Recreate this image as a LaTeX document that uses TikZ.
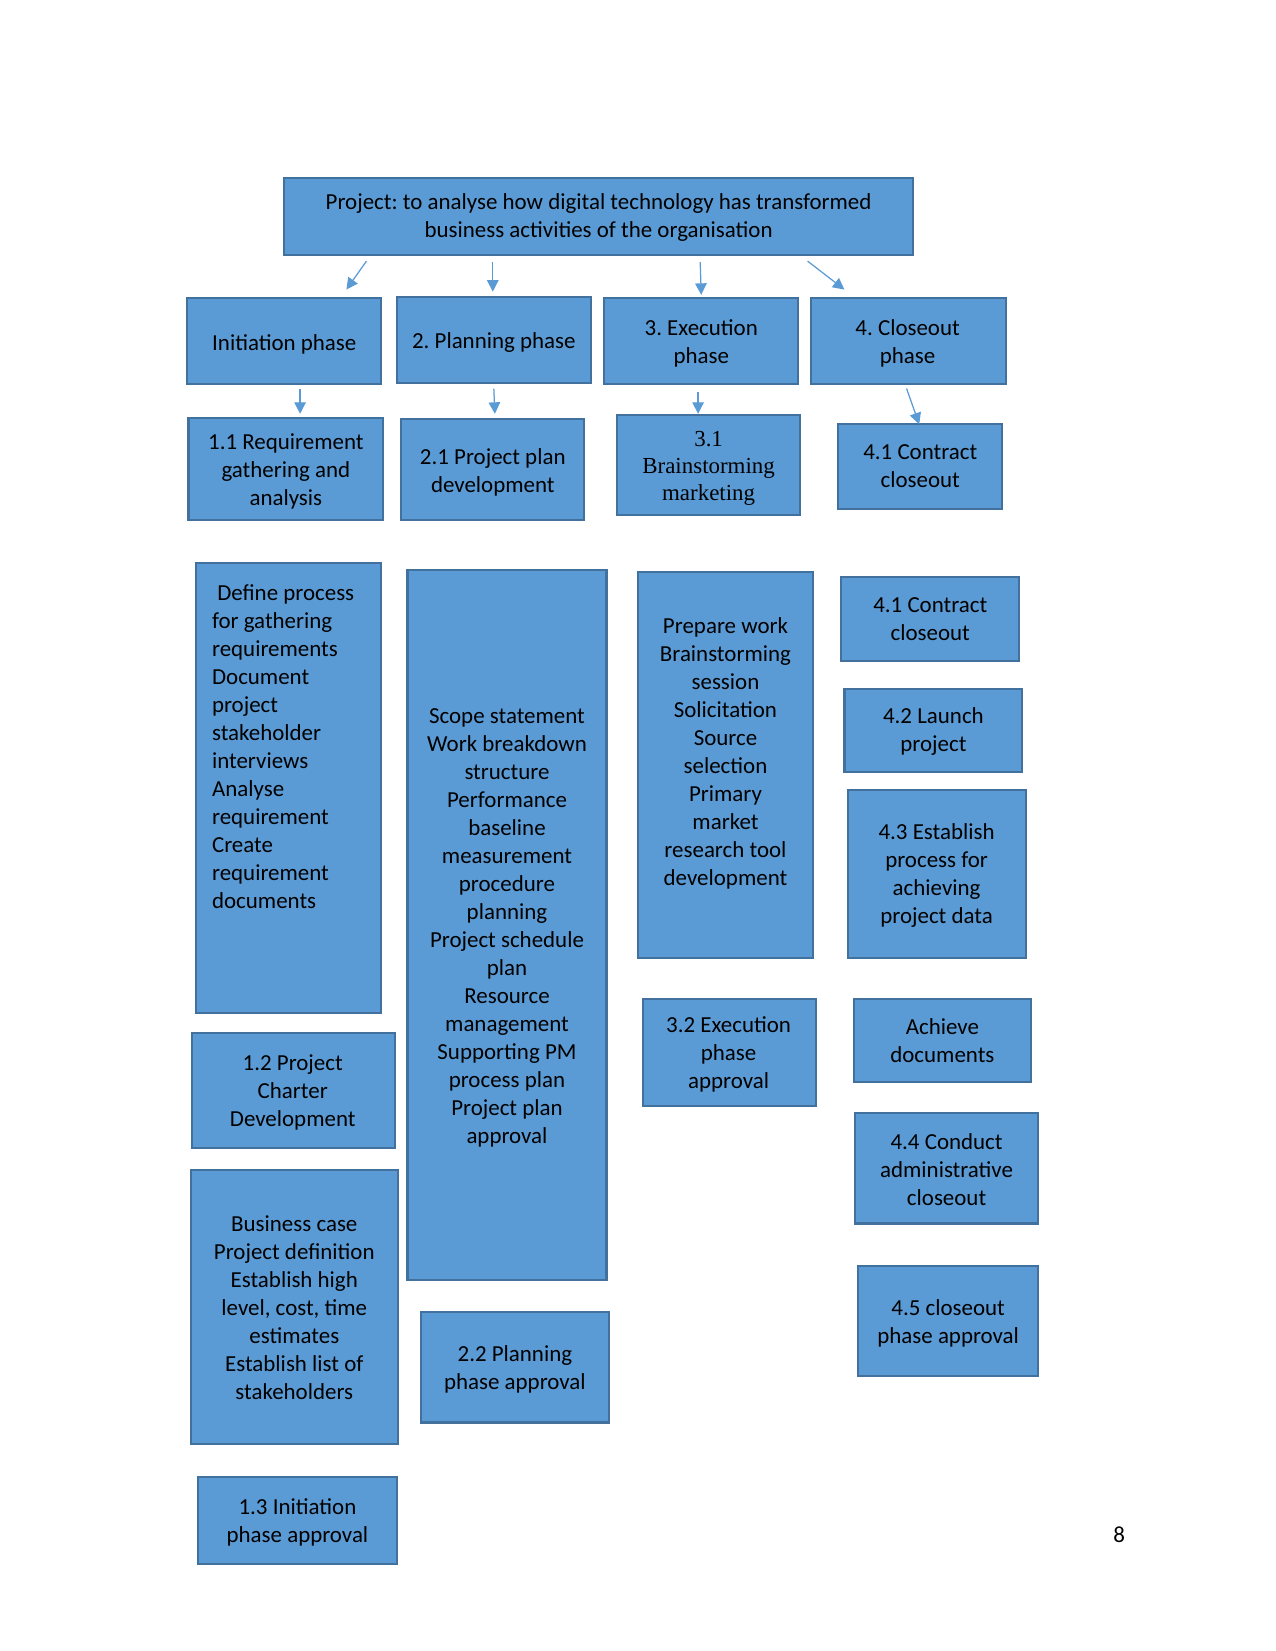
\documentclass[tikz,border=0pt]{standalone}
\usepackage{fontspec}
\setmainfont{Carlito}
\newfontfamily\tnr{Liberation Serif}
\usetikzlibrary{arrows.meta}
\frenchspacing
\definecolor{bfill}{HTML}{5B9BD5}
\definecolor{bline}{HTML}{41719C}
\newcommand{\bx}[5]{\node[box, minimum width={(#4-#2)*0.505pt}, minimum height={(#5-#3)*0.505pt}] (#1) at ({(#2+#4)/2},{-(#3+#5)/2}) {};}
\tikzset{
  box/.style={draw=bline, fill=bfill, line width=1pt, rectangle, inner sep=0pt, outer sep=0pt},
  txt/.style={align=center, inner sep=0pt, yshift=-2pt, font=\fontsize{11}{13.43}\selectfont, execute at begin node=\frenchspacing\strut, execute at end node=\strut},
  ltxt/.style={txt, align=left},
  arr/.style={draw=bfill, line width=0.6pt, -{Triangle[length=5.5pt,width=5.5pt]}}
}
\begin{document}
\begin{tikzpicture}[x=0.505pt, y=0.505pt]
\useasboundingbox (0,0) rectangle (1211,-1568);
% boxes
\bx{top}{270}{169}{867}{242}
\bx{p1}{178}{283}{362}{365}
\bx{p2}{377}{282}{561}{364}
\bx{p3}{574}{283}{758}{365}
\bx{p4}{770}{283}{955}{365}
\bx{c11}{179}{397}{364}{494}
\bx{c21}{381}{398}{555}{494}
\bx{c31}{586}{394}{760}{489}
\bx{c41}{796}{403}{952}{483}
\bx{d1}{186}{535}{362}{962}
\bx{d12}{182}{981}{375}{1090}
\bx{d1b}{181}{1111}{378}{1371}
\bx{d13}{188}{1403}{377}{1485}
\bx{d2}{387}{541}{576}{1216}
\bx{d22}{400}{1246}{578}{1351}
\bx{d3}{606}{543}{772}{910}
\bx{d32}{611}{949}{775}{1050}
\bx{d41}{799}{548}{968}{628}
\bx{d42}{802}{654}{971}{733}
\bx{d43}{805}{750}{974}{910}
\bx{d4a}{811}{949}{979}{1028}
\bx{d44}{812}{1057}{986}{1162}
\bx{d45}{815}{1202}{986}{1307}
% texts
\node[txt] (ttop) at (568.5,-205) {Project: to analyse how digital technology has transformed\\business activities of the organisation};
\node[txt] (tp1) at (270,-324) {Initiation phase};
\node[txt] (tp2) at (469,-322) {2. Planning phase};
\node[txt] (tp3) at (666,-324) {3. Execution\\phase};
\node[txt] (tp4) at (862,-324) {4. Closeout\\phase};
\node[txt] (tc11) at (271.5,-446) {1.1 Requirement\\gathering and\\analysis};
\node[txt] (tc21) at (468,-446.5) {2.1 Project plan\\development};
\node[txt, font=\tnr\fontsize{11}{13.1}\selectfont] (tc31) at (673,-442.5) {3.1\\Brainstorming\\marketing};
\node[txt] (tc41) at (874,-443) {4.1 Contract\\closeout};
\node[ltxt, anchor=west] (td1) at (201,-709) {\hspace*{2.5pt}Define process\\for gathering\\requirements\\Document\\project\\stakeholder\\interviews\\Analyse\\requirement\\Create\\requirement\\documents};
\node[txt] (td12) at (278,-1035.5) {1.2 Project\\Charter\\Development};
\node[txt] (td1b) at (279.5,-1241.5) {Business case\\Project definition\\Establish high\\level, cost, time\\estimates\\Establish list of\\stakeholders};
\node[txt] (td13) at (282.5,-1444) {1.3 Initiation\\phase approval};
\node[txt] (td2) at (481.5,-879.5) {Scope statement\\Work breakdown\\structure\\Performance\\baseline\\measurement\\procedure\\planning\\Project schedule\\plan\\Resource\\management\\Supporting PM\\process plan\\Project plan\\approval};
\node[txt] (td22) at (489,-1298.5) {2.2 Planning\\phase approval};
\node[txt] (td3) at (689,-713.5) {Prepare work\\Brainstorming\\session\\Solicitation\\Source\\selection\\Primary\\market\\research tool\\development};
\node[txt] (td32) at (692,-1000) {3.2 Execution\\phase\\approval};
\node[txt] (td41) at (883.5,-588) {4.1 Contract\\closeout};
\node[txt] (td42) at (886.5,-693) {4.2 Launch\\project};
\node[txt] (td43) at (889.5,-830) {4.3 Establish\\process for\\achieving\\project data};
\node[txt] (td4a) at (895,-988.5) {Achieve\\documents};
\node[txt] (td44) at (899,-1110.5) {4.4 Conduct\\administrative\\closeout};
\node[txt] (td45) at (900.5,-1255) {4.5 closeout\\phase approval};
\node[txt] (pg) at (1063,-1456) {8};
% arrow end points
\coordinate (a1s) at (348,-248); \coordinate (a1e) at (329,-275);
\coordinate (a2s) at (468,-249); \coordinate (a2e) at (468,-277);
\coordinate (a3s) at (665,-249); \coordinate (a3e) at (666,-280);
\coordinate (a4s) at (767,-248); \coordinate (a4e) at (802,-275);
\coordinate (b1s) at (285,-369); \coordinate (b1e) at (285,-393);
\coordinate (b2s) at (469,-369); \coordinate (b2e) at (470,-393);
\coordinate (b3s) at (663,-372); \coordinate (b3e) at (663,-393);
\coordinate (b4s) at (861,-369); \coordinate (b4e) at (873,-403);
\draw[arr] (a1s) -- (a1e);
\draw[arr] (a2s) -- (a2e);
\draw[arr] (a3s) -- (a3e);
\draw[arr] (a4s) -- (a4e);
\draw[arr] (b1s) -- (b1e);
\draw[arr] (b2s) -- (b2e);
\draw[arr] (b3s) -- (b3e);
\draw[arr] (b4s) -- (b4e);
\end{tikzpicture}
\end{document}
